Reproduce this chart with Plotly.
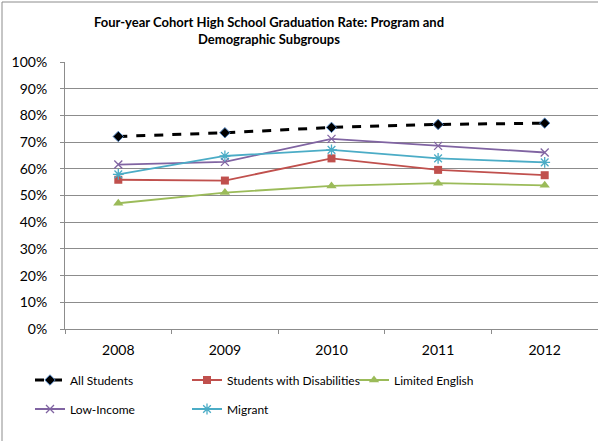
import plotly.graph_objects as go

years = ["2008", "2009", "2010", "2011", "2012"]
all_students = [0.721, 0.735, 0.755, 0.766, 0.771]
disabilities = [0.559, 0.556, 0.639, 0.596, 0.576]
limited_english = [0.471, 0.511, 0.536, 0.546, 0.538]
low_income = [0.616, 0.626, 0.712, 0.686, 0.661]
migrant = [0.579, 0.648, 0.671, 0.639, 0.624]

FONT = "Lato"
GRID = "#8c8c8c"

series = [
    dict(name="All Students", y=all_students, color="#000000", dash="dash", width=3,
         marker=dict(symbol="diamond", size=8, color="#000000",
                     line=dict(color="#4f81bd", width=1)), legend="legend"),
    dict(name="Students with Disabilities", y=disabilities, color="#c0504d", dash="solid", width=1.8,
         marker=dict(symbol="square", size=8, color="#c0504d"), legend="legend2"),
    dict(name="Limited English", y=limited_english, color="#9bbb59", dash="solid", width=1.8,
         marker=dict(symbol="triangle-up", size=9, color="#9bbb59"), legend="legend3"),
    dict(name="Low-Income", y=low_income, color="#8064a2", dash="solid", width=1.8,
         marker=dict(symbol="x-thin-open", size=8, color="#8064a2",
                     line=dict(color="#8064a2", width=1.3)), legend="legend4"),
    dict(name="Migrant", y=migrant, color="#4bacc6", dash="solid", width=1.8,
         marker=dict(symbol="asterisk-open", size=9, color="#4bacc6",
                     line=dict(color="#4bacc6", width=1.3)), legend="legend5"),
]

fig = go.Figure()
for s in series:
    fig.add_trace(go.Scatter(
        x=years, y=s["y"], name=s["name"], mode="lines+markers",
        line=dict(color=s["color"], width=s["width"], dash=s["dash"]),
        marker=s["marker"], legend=s["legend"], showlegend=True,
    ))

legend_common = dict(
    orientation="h", xref="container", yref="container",
    xanchor="left", yanchor="middle", visible=True,
    font=dict(family=FONT, size=12, color="#000000"), bgcolor="rgba(0,0,0,0)",
    itemwidth=30,
)

# legend entry slots: (left edge of entry in px, row centre in px)
legend_slots = {
    "legend": (30, 380), "legend2": (187, 380), "legend3": (354, 380),
    "legend4": (30, 409), "legend5": (187, 409),
}
legends = {k: dict(x=px / 598, y=1 - py / 441, **legend_common)
           for k, (px, py) in legend_slots.items()}

fig.update_layout(
    width=598, height=441,
    margin=dict(l=65, r=0, t=62, b=112),
    paper_bgcolor="#ffffff", plot_bgcolor="#ffffff",
    font=dict(family=FONT, size=13, color="#000000"),
    showlegend=True,
    title=dict(
        text="<b>Four-year Cohort High School Graduation Rate: Program and<br>Demographic Subgroups</b>",
        x=269 / 598, xanchor="center", y=1 - 27 / 441, yanchor="middle",
        font=dict(family=FONT, size=13, color="#000000"),
    ),
    xaxis=dict(
        type="category", range=[-0.5, 4.5], showgrid=False,
        showline=True, linecolor=GRID, linewidth=1,
        ticks="outside", tickson="boundaries", ticklen=4, tickcolor=GRID,
        tickfont=dict(family=FONT, size=14), ticklabelstandoff=8,
    ),
    yaxis=dict(
        range=[0, 1], dtick=0.1, tickformat=".0%",
        showgrid=True, gridcolor=GRID, gridwidth=1,
        showline=True, linecolor=GRID, linewidth=1,
        ticks="outside", ticklen=4, tickcolor=GRID,
        tickfont=dict(family=FONT, size=14), ticklabelstandoff=10,
        zeroline=False,
    ),
    shapes=[
        dict(type="rect", xref="paper", yref="paper",
             x0=-63 / 533, x1=1.05, y0=-(441 - 329 + 10) / 267, y1=(329 - 2) / 267,
             line=dict(color="#8c8c8c", width=1), fillcolor="rgba(0,0,0,0)", layer="below"),
    ],
    **legends,
)

fig.write_html("out.html")
